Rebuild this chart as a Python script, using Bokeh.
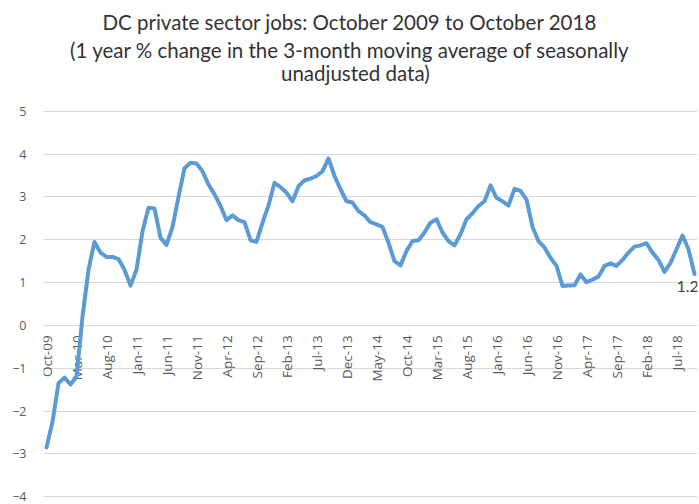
import math
import pandas as pd
from bokeh.plotting import figure
from bokeh.models import FactorRange, Range1d, FixedTicker
from bokeh.core.properties import value
from bokeh.embed import file_html
from bokeh.resources import INLINE

# ---- data ----
months = list(pd.period_range("2009-10", "2018-10", freq="M").strftime("%b-%y"))

pct_change = [
    -2.85, -2.25, -1.35, -1.22, -1.38, -1.2, 0.2, 1.3, 1.95, 1.7,
    1.6, 1.6, 1.55, 1.3, 0.93, 1.3, 2.2, 2.75, 2.73, 2.05,
    1.88, 2.3, 3.0, 3.67, 3.8, 3.78, 3.6, 3.29, 3.06, 2.79,
    2.46, 2.57, 2.46, 2.41, 1.99, 1.95, 2.4, 2.8, 3.33, 3.23,
    3.1, 2.9, 3.25, 3.39, 3.43, 3.49, 3.6, 3.9, 3.49, 3.18,
    2.9, 2.87, 2.67, 2.57, 2.41, 2.36, 2.3, 1.93, 1.5, 1.4,
    1.74, 1.97, 1.99, 2.17, 2.4, 2.48, 2.17, 1.97, 1.87, 2.13,
    2.48, 2.62, 2.79, 2.9, 3.27, 2.98, 2.9, 2.8, 3.19, 3.14,
    2.94, 2.3, 1.97, 1.82, 1.58, 1.39, 0.92, 0.93, 0.94, 1.19,
    1.01, 1.07, 1.14, 1.39, 1.45, 1.39, 1.53, 1.7, 1.84, 1.87,
    1.92, 1.7, 1.53, 1.25, 1.46, 1.78, 2.1, 1.78, 1.2,
]

x_tick_labels = ["Oct-09", "Mar-10", "Aug-10", "Jan-11", "Jun-11", "Nov-11",
                 "Apr-12", "Sep-12", "Feb-13", "Jul-13", "Dec-13", "May-14",
                 "Oct-14", "Mar-15", "Aug-15", "Jan-16", "Jun-16", "Nov-16",
                 "Apr-17", "Sep-17", "Feb-18", "Jul-18"]
y_ticks = [-4, -3, -2, -1, 0, 1, 2, 3, 4, 5]

title_lines = ["DC private sector jobs: October 2009 to October 2018",
               "(1 year % change in the 3-month moving average of seasonally",
               "unadjusted  data)"]

# ---- layout geometry (pixels) ----
W, H = 699, 504
LEFT, RIGHT, BOTTOM = 43, 2, 7
GRID_TOP = 110          # page y of the y=5.02 level
Y0, Y5 = -4.02, 5.02
px_per_y = (H - BOTTOM - GRID_TOP) / (Y5 - Y0)
Y_TOP = Y5 + GRID_TOP / px_per_y   # frame reaches the top of the picture
px_per_x = (W - LEFT - RIGHT) / len(months)


def page_to_y(py):
    return Y_TOP - py / px_per_y


# ---- figure ----
p = figure(width=W, height=H, output_backend="svg", toolbar_location=None,
           x_range=FactorRange(factors=months), y_range=Range1d(Y0, Y_TOP),
           x_axis_location=None, min_border_left=LEFT, min_border_right=RIGHT,
           min_border_top=0, min_border_bottom=BOTTOM)
p.title.visible = False
p.outline_line_color = None
p.background_fill_color = "white"
p.border_fill_color = "white"

p.yaxis.ticker = FixedTicker(ticks=y_ticks)
p.yaxis.axis_line_color = None
p.yaxis.major_tick_line_color = None
p.yaxis.minor_tick_line_color = None
p.yaxis.major_tick_out = 0
p.yaxis.major_label_standoff = 17
p.yaxis.major_label_text_font = "Open Sans"
p.yaxis.major_label_text_font_size = "12.5px"
p.yaxis.major_label_text_color = "#595959"

p.ygrid.ticker = FixedTicker(ticks=y_ticks)
p.ygrid.grid_line_color = "#D9D9D9"
p.ygrid.grid_line_width = 1
p.xgrid.grid_line_color = None

# category tick labels on the zero line
p.text(x=x_tick_labels, y=[0] * len(x_tick_labels), text=x_tick_labels,
       angle=math.pi / 2, text_align="right", text_baseline="middle",
       y_offset=10, text_font=value("Open Sans"), text_font_size="13.5px",
       text_color="#595959")

p.line(x=months, y=pct_change, line_color="#5B9BD5", line_width=4,
       line_join="round", line_cap="round")

# last value label
p.text(x=[months[-1]], y=[pct_change[-1]], text=[f"{pct_change[-1]:.1f}"],
       text_align="left", text_baseline="top", x_offset=-18, y_offset=7,
       text_font=value("Lato"), text_font_size="16px", text_color="#404040")

# titles (centred on the full picture width)
mid = len(months) // 2
mid_px = LEFT + (mid + 0.5) * px_per_x
for txt, py, fs, dx in zip(title_lines, [21, 49, 72], ["20.5px", "20.5px", "20.5px"],
                           [0, 0, 8]):
    p.text(x=[months[mid]], y=[page_to_y(py)], text=[txt], text_align="center",
           text_baseline="middle", x_offset=W / 2 - mid_px + dx,
           text_font=value("Lato"), text_font_size=fs, text_color="#333333")

open("out.html", "w").write(file_html(p, INLINE))
